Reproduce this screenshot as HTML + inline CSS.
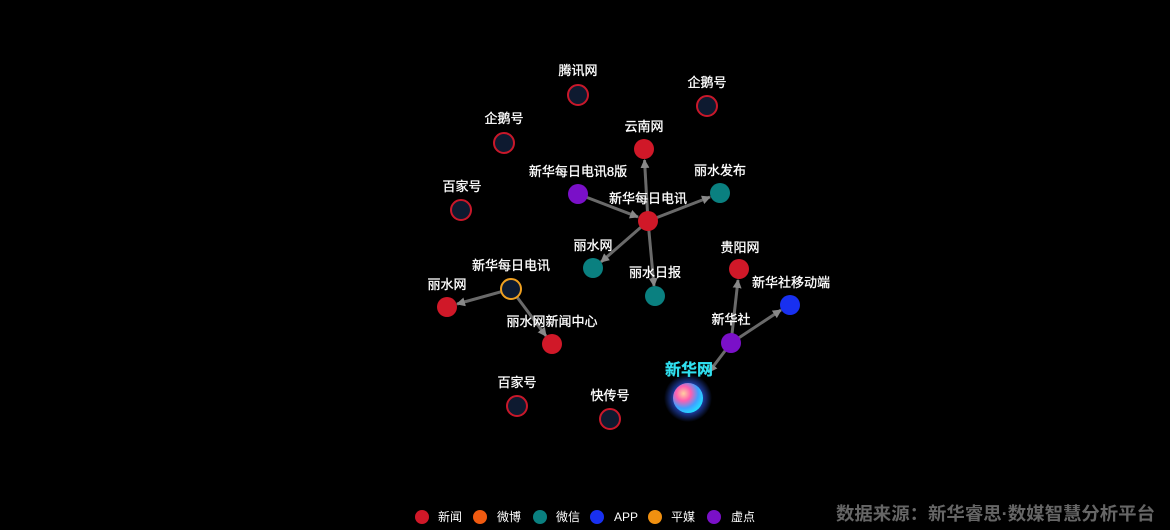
<!DOCTYPE html>
<html><head><meta charset="utf-8"><style>
html,body{margin:0;padding:0;background:#000;}
svg{display:block;}
text{font-family:"Liberation Sans","Noto Sans CJK SC",sans-serif;}
</style></head><body>
<svg width="1170" height="530" viewBox="0 0 1170 530" xmlns="http://www.w3.org/2000/svg">
<defs>
<marker id="a" markerWidth="9" markerHeight="9" refX="8" refY="4.5" orient="auto" markerUnits="userSpaceOnUse">
<path d="M0,0 L9,4.5 L0,9 Z" fill="#888"/></marker>
<radialGradient id="g" cx="35%" cy="35%" r="70%">
<stop offset="0" stop-color="#ffd0a0"/><stop offset="0.35" stop-color="#ff5fb0"/><stop offset="0.7" stop-color="#40a0ff"/><stop offset="1" stop-color="#20e0ff"/></radialGradient>
<radialGradient id="glow"><stop offset="0.5" stop-color="#3060ff" stop-opacity="0.8"/><stop offset="1" stop-color="#3060ff" stop-opacity="0"/></radialGradient>
</defs>
<g stroke="#6a6a6a" stroke-width="3" fill="none" marker-end="url(#a)">
<line x1="648" y1="221" x2="644.5" y2="160"/>
<line x1="578" y1="194" x2="638" y2="217"/>
<line x1="648" y1="221" x2="710" y2="197"/>
<line x1="648" y1="221" x2="601" y2="262"/>
<line x1="648" y1="221" x2="654" y2="286"/>
<line x1="511" y1="289" x2="457" y2="304"/>
<line x1="511" y1="289" x2="546" y2="336"/>
<line x1="731" y1="343" x2="738" y2="280"/>
<line x1="731" y1="343" x2="781" y2="310"/>
<line x1="731" y1="343" x2="709" y2="372"/>
</g>
<g stroke="#c8182a" stroke-width="2" fill="#0e1a30">
<circle cx="578" cy="95" r="10"/><circle cx="707" cy="106" r="10"/><circle cx="504" cy="143" r="10"/>
<circle cx="461" cy="210" r="10"/><circle cx="517" cy="406" r="10"/><circle cx="610" cy="419" r="10"/>
<circle cx="511" cy="289" r="10" stroke="#f0a020"/>
</g>
<g>
<circle cx="644" cy="149" r="10" fill="#d01828"/><circle cx="648" cy="221" r="10" fill="#d01828"/>
<circle cx="739" cy="269" r="10" fill="#d01828"/><circle cx="447" cy="307" r="10" fill="#d01828"/>
<circle cx="552" cy="344" r="10" fill="#d01828"/>
<circle cx="578" cy="194" r="10" fill="#7a10c8"/><circle cx="731" cy="343" r="10" fill="#7a10c8"/>
<circle cx="720" cy="193" r="10" fill="#0a8080"/><circle cx="593" cy="268" r="10" fill="#0a8080"/><circle cx="655" cy="296" r="10" fill="#0a8080"/>
<circle cx="790" cy="305" r="10" fill="#1830f0"/>
<circle cx="688" cy="398" r="24" fill="url(#glow)"/>
<circle cx="688" cy="398" r="15" fill="url(#g)"/>
</g>
<g fill="#fff" font-size="13" text-anchor="middle" stroke="#fff" stroke-width="0.3">
<text x="578" y="75">腾讯网</text><text x="707" y="87">企鹅号</text><text x="504" y="123">企鹅号</text>
<text x="644" y="131">云南网</text><text x="462" y="191">百家号</text><text x="578" y="176">新华每日电讯8版</text>
<text x="720" y="175">丽水发布</text><text x="648" y="203">新华每日电讯</text><text x="593" y="250">丽水网</text>
<text x="740" y="252">贵阳网</text><text x="655" y="277">丽水日报</text><text x="511" y="270">新华每日电讯</text>
<text x="447" y="289">丽水网</text><text x="791" y="287">新华社移动端</text><text x="731" y="324">新华社</text>
<text x="552" y="326">丽水网新闻中心</text><text x="517" y="387">百家号</text><text x="610" y="400">快传号</text>
<text x="689" y="375" fill="#30e0f0" stroke="#30e0f0" font-size="16" font-weight="bold">新华网</text>
</g>
<g font-size="12" fill="#fff">
<circle cx="422" cy="517" r="7" fill="#d01828"/><text x="438" y="521">新闻</text>
<circle cx="480" cy="517" r="7" fill="#f05a10"/><text x="497" y="521">微博</text>
<circle cx="540" cy="517" r="7" fill="#0a8080"/><text x="556" y="521">微信</text>
<circle cx="597" cy="517" r="7" fill="#1830f0"/><text x="614" y="521">APP</text>
<circle cx="655" cy="517" r="7" fill="#f09010"/><text x="671" y="521">平媒</text>
<circle cx="714" cy="517" r="7" fill="#7a10c8"/><text x="731" y="521">虚点</text>
</g>
<text x="836" y="520" textLength="319" lengthAdjust="spacingAndGlyphs" font-size="18" font-weight="bold" fill="#666">数据来源：新华睿思·数媒智慧分析平台</text>
</svg>
</body></html>
